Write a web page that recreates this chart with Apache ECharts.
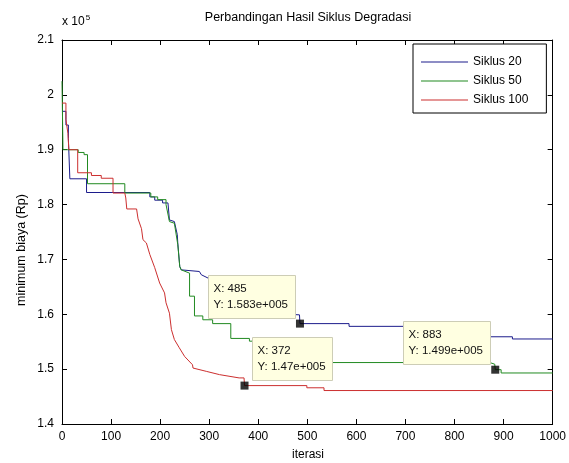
<!DOCTYPE html>
<html>
<head>
<meta charset="utf-8">
<script src="https://cdn.jsdelivr.net/npm/echarts@6/dist/echarts.min.js"></script>
<style>
html,body{margin:0;padding:0;background:#fff;}
#chart{width:569px;height:463px;}
</style>
</head>
<body>
<div id="chart"></div>
<script>
// ---- data (y in units of 1e5) ----
const xTicks = [0,100,200,300,400,500,600,700,800,900,1000];
const yTicks = [1.4,1.5,1.6,1.7,1.8,1.9,2.0,2.1];
const seriesNames = ['Siklus 20','Siklus 50','Siklus 100'];

const siklus20 = [[0,1.97],[8,1.97],[8,1.945],[13,1.945],[13,1.92],[16,1.92],[16,1.847],[50,1.847],[50,1.822],[179,1.822],[179,1.814],[189,1.814],[189,1.808],[205,1.808],[205,1.803],[216,1.803],[219,1.772],[229,1.769],[233,1.766],[235,1.745],[236,1.73],[240,1.687],[243,1.681],[280,1.678],[284,1.672],[300,1.665],[330,1.645],[370,1.625],[420,1.61],[460,1.60],[484,1.599],[485,1.583],[585,1.583],[585,1.578],[760,1.578],[760,1.559],[918,1.559],[918,1.555],[1000,1.555]];

const siklus50 = [[0,2.025],[2,2.025],[2,1.90],[33,1.90],[33,1.895],[45,1.895],[45,1.891],[52,1.891],[52,1.838],[128,1.838],[128,1.821],[181,1.821],[181,1.814],[195,1.814],[195,1.809],[212,1.809],[212,1.80],[219,1.769],[229,1.766],[233,1.763],[236,1.727],[240,1.687],[243,1.681],[260,1.675],[260,1.633],[270,1.633],[270,1.597],[287,1.597],[287,1.590],[307,1.590],[307,1.583],[344,1.583],[344,1.556],[382,1.556],[382,1.551],[420,1.551],[420,1.53],[480,1.53],[480,1.512],[872,1.512],[872,1.509],[882,1.509],[883,1.499],[895,1.499],[895,1.493],[1000,1.493]];

const siklus100 = [[0,1.985],[8,1.985],[8,1.955],[12,1.955],[12,1.93],[14,1.93],[14,1.90],[32,1.90],[32,1.858],[60,1.858],[60,1.853],[80,1.853],[80,1.848],[104,1.848],[104,1.821],[128,1.821],[130,1.812],[132,1.792],[152,1.792],[155,1.774],[162,1.756],[165,1.736],[172,1.73],[179,1.709],[189,1.685],[199,1.657],[209,1.639],[212,1.621],[219,1.602],[223,1.572],[229,1.554],[239,1.539],[250,1.523],[266,1.508],[267,1.502],[294,1.496],[321,1.49],[361,1.484],[371,1.484],[372,1.47],[499,1.47],[499,1.466],[534,1.466],[534,1.461],[1000,1.461]];

// data tips
const tipX = [485, 372, 883];
const tipY = [1.583, 1.47, 1.499];
const tipLabelX = ['485','372','883'];
const tipLabelY = ['1.583e+005','1.47e+005','1.499e+005'];

// ---- styling ----
const colors = ['#1c1c8c','#218a21','#cc2f2f'];
const FONT = 'Liberation Sans, Arial, Helvetica, sans-serif';
// box side relative to marker: -1 = box to the left, +1 = box to the right
const tipSide = [-1, 1, -1];

const chart = echarts.init(document.getElementById('chart'), null, {renderer:'canvas'});

const axisCommon = {
  type:'value',
  axisLine:{show:true, onZero:false, lineStyle:{color:'#000', width:1}},
  axisTick:{show:true, inside:true, length:5, lineStyle:{color:'#000'}},
  splitLine:{show:false},
  axisLabel:{color:'#000', fontFamily:FONT, fontSize:12}
};

const lineSeries = [siklus20, siklus50, siklus100].map((d,i)=>({
  name: seriesNames[i],
  type:'line',
  data:d,
  symbol:'none',
  showSymbol:false,
  lineStyle:{color:colors[i], width:1},
  itemStyle:{color:colors[i]},
  animation:false,
  z:2
}));

const option = {
  animation:false,
  backgroundColor:'#fff',
  grid:{left:62, right:14, top:40, bottom:39},
  xAxis:[
    Object.assign({}, axisCommon, {min:0, max:1000, interval:100, position:'bottom',
      axisLabel:Object.assign({}, axisCommon.axisLabel, {margin:7, formatter:v=>String(v)})}),
    Object.assign({}, axisCommon, {min:0, max:1000, interval:100, position:'top', axisLabel:{show:false}})
  ],
  yAxis:[
    Object.assign({}, axisCommon, {min:1.4, max:2.1, interval:0.1, position:'left',
      axisLabel:Object.assign({}, axisCommon.axisLabel, {margin:8, formatter:v=>String(parseFloat(v.toFixed(1)))})}),
    Object.assign({}, axisCommon, {min:1.4, max:2.1, interval:0.1, position:'right', axisLabel:{show:false}})
  ],
  legend:{
    data:seriesNames.map(n=>({name:n, icon:'rect'})),
    orient:'vertical',
    left:413, top:44,
    itemWidth:47, itemHeight:1, itemGap:5,
    padding:[11,18,6,8],
    borderColor:'#000', borderWidth:1,
    backgroundColor:'#fff',
    textStyle:{color:'#000', fontFamily:FONT, fontSize:12, lineHeight:14},
    selectedMode:false
  },
  series: lineSeries.concat([{
    name:'tips',
    type:'scatter',
    data:tipX.map((x,i)=>[x, tipY[i]]),
    symbol:'rect',
    symbolSize:8,
    itemStyle:{color:'#000'},
    z:10,
    animation:false
  }]),
  graphic:[
    {type:'text', x:308, y:18, style:{text:'Perbandingan Hasil Siklus Degradasi', fill:'#000', font:'12.5px ' + FONT, align:'center', verticalAlign:'middle'}},
    {type:'text', x:62, y:22, style:{text:'x 10{s|5}', fill:'#000', font:'12px ' + FONT, align:'left', verticalAlign:'middle',
      rich:{s:{fontSize:8, fontFamily:FONT, verticalAlign:'top', padding:[0,0,8,1], fill:'#000'}}}},
    {type:'text', x:308, y:455, style:{text:'iterasi', fill:'#000', font:'12px ' + FONT, align:'center', verticalAlign:'middle'}},
    {type:'text', x:22, y:250, rotation:Math.PI/2, style:{text:'minimum biaya (Rp)', fill:'#000', font:'12.5px ' + FONT, align:'center', verticalAlign:'middle'}}
  ]
};
chart.setOption(option);

// data-tip boxes anchored to the markers through the chart's own coordinate conversion
const ctx = document.createElement('canvas').getContext('2d');
const tipFont = '11.5px ' + FONT;
ctx.font = tipFont;
const tipGraphics = tipX.map((x,i)=>{
  const p = chart.convertToPixel({xAxisIndex:0, yAxisIndex:0}, [x, tipY[i]]);
  const l1 = 'X: ' + tipLabelX[i], l2 = 'Y: ' + tipLabelY[i];
  const tw = Math.max(ctx.measureText(l1).width, ctx.measureText(l2).width);
  const w = Math.round(tw + 12), h = 43;
  const left = tipSide[i] < 0 ? Math.round(p[0] - 5 - w) + 0.5 : Math.round(p[0] + 7) + 0.5;
  const top = Math.round(p[1] - 6 - h) + 0.5;
  return {
    type:'group', z:100,
    children:[
      {type:'rect', shape:{x:left, y:top, width:w, height:h}, style:{fill:'#ffffe1', stroke:'#cdcdb6', lineWidth:1}, z:100},
      {type:'text', x:left+5, y:top+13.5, style:{text:l1, font:tipFont, fill:'#111', align:'left', verticalAlign:'middle'}, z:101},
      {type:'text', x:left+5, y:top+29.5, style:{text:l2, font:tipFont, fill:'#111', align:'left', verticalAlign:'middle'}, z:101}
    ]
  };
});
chart.setOption({graphic: option.graphic.concat(tipGraphics)});
</script>
</body>
</html>
